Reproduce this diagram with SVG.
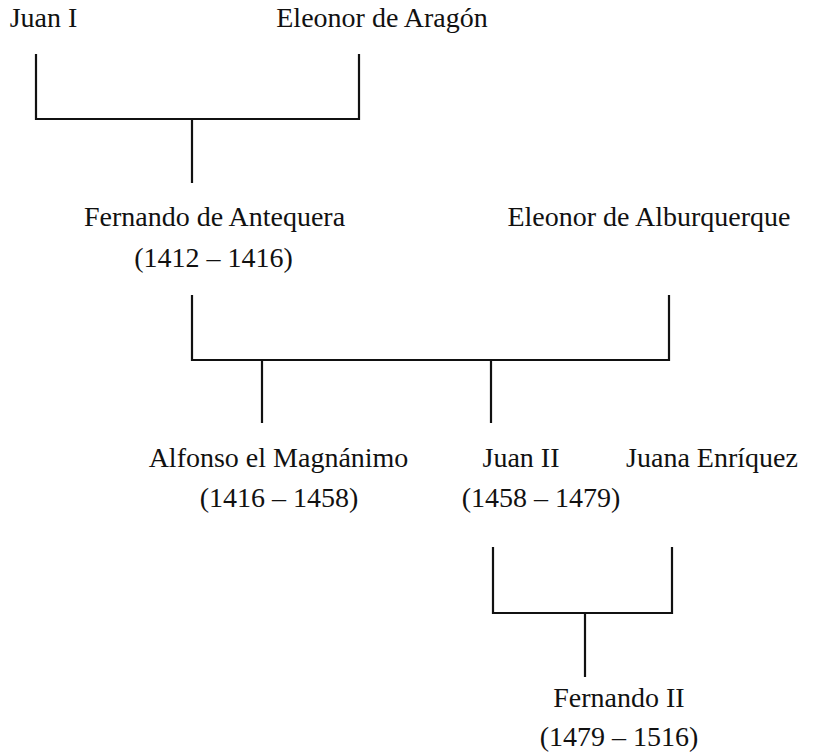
<svg xmlns="http://www.w3.org/2000/svg" width="820" height="754" viewBox="0 0 820 754">
<style>
text{font-family:"Liberation Serif","Times New Roman",serif;font-size:28px;fill:#111;text-anchor:middle}
.c{fill:none;stroke:#111;stroke-width:2.2;stroke-linecap:square}
</style>
<rect width="820" height="754" fill="#fff"/>
<g id="connectors">
<path class="c" d="M36,55V119H359V55M192,119V182"/>
<path class="c" d="M192,296V360H669V296M262,360V422M491,360V422"/>
<path class="c" d="M493,548V613H672V548M585,613V676"/>
</g>
<g id="juan-i"><text x="43.5" y="27">Juan I</text></g>
<g id="eleonor-aragon"><text x="382" y="27">Eleonor de Aragón</text></g>
<g id="fernando-antequera"><text x="214.5" y="226">Fernando de Antequera</text><text x="213.5" y="267">(1412 – 1416)</text></g>
<g id="eleonor-alburquerque"><text x="649" y="226">Eleonor de Alburquerque</text></g>
<g id="alfonso"><text x="278.5" y="467">Alfonso el Magnánimo</text><text x="279" y="507">(1416 – 1458)</text></g>
<g id="juan-ii"><text x="521" y="467">Juan II</text><text x="541" y="507">(1458 – 1479)</text></g>
<g id="juana-enriquez"><text x="712" y="467">Juana Enríquez</text></g>
<g id="fernando-ii"><text x="619" y="707">Fernando II</text><text x="619" y="746">(1479 – 1516)</text></g>
</svg>
